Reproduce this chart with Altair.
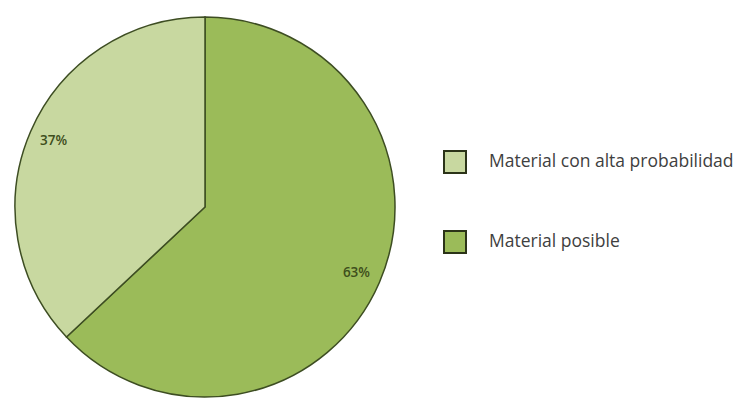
import altair as alt
import pandas as pd

categories = ["Material posible", "Material con alta probabilidad"]
values = [63, 37]
labels = ["63%", "37%"]
order = [1, 2]

legend_order = ["Material con alta probabilidad", "Material posible"]
colors = ["#c8d8a0", "#9bbb59"]

df = pd.DataFrame({"cat": categories, "val": values, "lab": labels, "ord": order})

base = alt.Chart(df).encode(
    theta=alt.Theta("val:Q", stack=True),
    order=alt.Order("ord:Q"),
    x=alt.value(197),
    y=alt.value(199),
)

pie = base.mark_arc(outerRadius=190, stroke="#3d4d22", strokeWidth=1.5).encode(
    color=alt.Color(
        "cat:N",
        scale=alt.Scale(domain=legend_order, range=colors),
        legend=alt.Legend(
            title=None,
            orient="none",
            legendX=435,
            legendY=142,
            symbolType="square",
            symbolSize=484,
            symbolStrokeColor="#2b3318",
            symbolStrokeWidth=2,
            symbolOpacity=1,
            rowPadding=50,
            labelOffset=22,
            labelFont="Open Sans",
            labelFontSize=17.5,
            labelColor="#404040",
            padding=0,
            labelLimit=400,
        ),
    )
)

text = base.mark_text(radius=165, font="Open Sans", fontSize=13.5, fontWeight=600, color="#3e4e1c").encode(
    text="lab:N"
)

chart = (
    alt.layer(pie, text)
    .properties(width=731, height=390, padding=0, autosize=alt.AutoSizeParams(type="none"))
    .configure_view(stroke=None)
)

chart.save("out.html", embed_options={"renderer": "svg", "actions": False})
